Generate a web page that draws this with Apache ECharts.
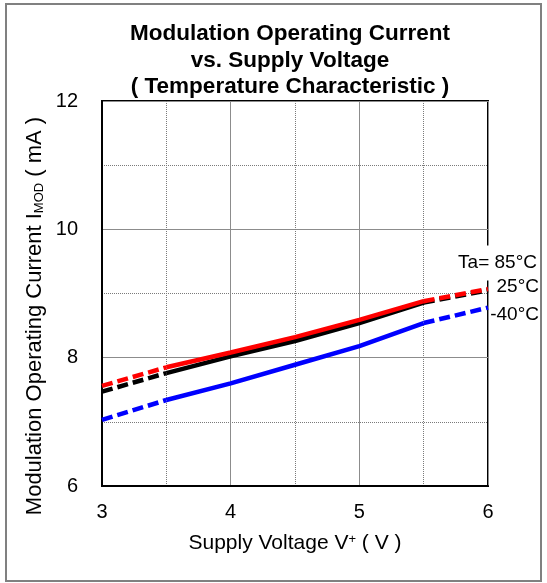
<!DOCTYPE html>
<html>
<head>
<meta charset="utf-8">
<script src="https://cdn.jsdelivr.net/npm/echarts@6/dist/echarts.min.js"></script>
<style>
html,body{margin:0;padding:0;background:#fff;}
#chart{width:547px;height:583px;}
</style>
</head>
<body>
<div id="chart"></div>
<script>
// ---- data ----
const voltage = [3, 3.5, 4, 4.5, 5, 5.5, 6];
const ta85 = [7.56, 7.85, 8.08, 8.32, 8.59, 8.88, 9.07];
const ta25 = [7.47, 7.76, 8.02, 8.26, 8.54, 8.86, 9.05];
const taM40 = [7.03, 7.34, 7.60, 7.89, 8.18, 8.54, 8.78];
const xTicks = [3, 4, 5, 6];
const yTicks = [6, 8, 10, 12];
const titleLines = ['Modulation Operating Current', 'vs. Supply Voltage', '( Temperature Characteristic )'];
const tempLabels = ['Ta= 85°C', '25°C', '-40°C'];

const FONT = '"Liberation Sans", Arial, sans-serif';
const chart = echarts.init(document.getElementById('chart'));

function pairs(arr, from, to) {
  const out = [];
  for (let i = from; i <= to; i++) out.push([voltage[i], arr[i]]);
  return out;
}
const curves = [
  { data: taM40, color: '#0000FF' },
  { data: ta25, color: '#000000' },
  { data: ta85, color: '#FF0000' }
];
const series = [];
curves.forEach((c, k) => {
  const segs = [
    { from: 0, to: 1, type: [11, 5] },
    { from: 1, to: 5, type: 'solid' },
    { from: 5, to: 6, type: [11, 5] }
  ];
  segs.forEach(s => {
    series.push({
      type: 'line',
      data: pairs(c.data, s.from, s.to),
      symbol: 'none',
      z: 3 + k,
      lineStyle: { color: c.color, width: 4.5, type: s.type, cap: 'butt' }
    });
  });
});

chart.setOption({
  animation: false,
  backgroundColor: '#fff',
  grid: { left: 102, top: 101, width: 386, height: 385, show: true, borderColor: '#000', borderWidth: 2, containLabel: false },
  xAxis: {
    type: 'value', min: 3, max: 6, interval: 1,
    axisLine: { show: true, lineStyle: { color: '#000', width: 2 } },
    axisTick: { show: false },
    axisLabel: { color: '#000', fontSize: 20, fontFamily: FONT, margin: 16,
      formatter: v => (xTicks.indexOf(v) >= 0 ? String(v) : '') },
    splitLine: { show: true, lineStyle: { color: '#8c8c8c', width: 1 } },
    minorTick: { show: false, splitNumber: 2 },
    minorSplitLine: { show: true, lineStyle: { color: '#7a7a7a', width: 1, type: [1, 1] } },
    name: 'Supply Voltage V{sup|+} ( V )',
    nameLocation: 'middle', nameGap: 47,
    nameTextStyle: { color: '#000', fontSize: 21, fontFamily: FONT,
      rich: { sup: { fontSize: 13, fontFamily: FONT, color: '#000', verticalAlign: 'top', padding: [0, 0, 8, 0] } } }
  },
  yAxis: {
    type: 'value', min: 6, max: 12, interval: 2,
    axisLine: { show: true, lineStyle: { color: '#000', width: 2 } },
    axisTick: { show: false },
    axisLabel: { color: '#000', fontSize: 20, fontFamily: FONT, margin: 24,
      formatter: v => (yTicks.indexOf(v) >= 0 ? String(v) : '') },
    splitLine: { show: true, lineStyle: { color: '#8c8c8c', width: 1 } },
    minorTick: { show: false, splitNumber: 2 },
    minorSplitLine: { show: true, lineStyle: { color: '#7a7a7a', width: 1, type: [1, 1] } }
  },
  series: series,
  graphic: [
    { type: 'rect', z: 100, shape: { x: 6, y: 4, width: 535, height: 577 },
      style: { fill: 'none', stroke: '#808080', lineWidth: 2 } },
    { type: 'text', z: 100, x: 290, y: 21,
      style: { text: titleLines.join('\n'), align: 'center', verticalAlign: 'top',
        fontSize: 22.5, fontWeight: 'bold', fontFamily: FONT, lineHeight: 26.5, fill: '#000' } },
    { type: 'text', z: 100, x: 35, y: 316, rotation: Math.PI / 2,
      style: { text: 'Modulation Operating Current I{sub|MOD} ( mA )', align: 'center', verticalAlign: 'middle',
        fontSize: 22, fontFamily: FONT, fill: '#000',
        rich: { sub: { fontSize: 13, fontFamily: FONT, fill: '#000', verticalAlign: 'bottom' } } } },
    { type: 'text', z: 100, x: 539, y: 263,
      style: { text: tempLabels[0], align: 'right', verticalAlign: 'middle', fontSize: 19, fontFamily: FONT,
        fill: '#000', backgroundColor: '#fff', padding: [8, 2, 8, 4] } },
    { type: 'text', z: 100, x: 539, y: 287,
      style: { text: tempLabels[1], align: 'right', verticalAlign: 'middle', fontSize: 19, fontFamily: FONT, fill: '#000' } },
    { type: 'text', z: 100, x: 539, y: 315,
      style: { text: tempLabels[2], align: 'right', verticalAlign: 'middle', fontSize: 19, fontFamily: FONT, fill: '#000' } }
  ]
});
</script>
</body>
</html>
